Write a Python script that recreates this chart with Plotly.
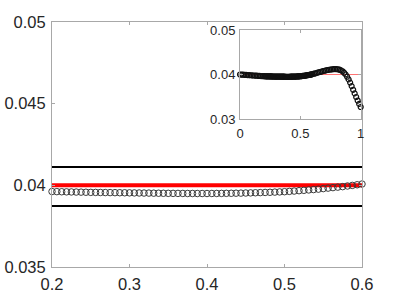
import plotly.graph_objects as go

# ---- data ----
x_vals = [
    0.0, 0.0125, 0.025, 0.0375, 0.05, 0.0625, 0.075, 0.0875, 0.1, 0.1125, 0.125, 0.1375,
    0.15, 0.1625, 0.175, 0.1875,
    0.2, 0.20625, 0.2125, 0.21875, 0.225, 0.23125, 0.2375, 0.24375,
    0.25, 0.25625, 0.2625, 0.26875, 0.275, 0.28125, 0.2875, 0.29375,
    0.3, 0.30625, 0.3125, 0.31875, 0.325, 0.33125, 0.3375, 0.34375,
    0.35, 0.35625, 0.3625, 0.36875, 0.375, 0.38125, 0.3875, 0.39375,
    0.4, 0.40625, 0.4125, 0.41875, 0.425, 0.43125, 0.4375, 0.44375,
    0.45, 0.45625, 0.4625, 0.46875, 0.475, 0.48125, 0.4875, 0.49375,
    0.5, 0.50625, 0.5125, 0.51875, 0.525, 0.53125, 0.5375, 0.54375,
    0.55, 0.55625, 0.5625, 0.56875, 0.575, 0.58125, 0.5875, 0.59375,
    0.6,
    0.6125, 0.625, 0.6375, 0.65, 0.6625, 0.675, 0.6875, 0.7, 0.7125, 0.725, 0.7375,
    0.75, 0.7625, 0.775, 0.7875, 0.8, 0.8125, 0.825, 0.8375, 0.85, 0.8625, 0.875,
    0.8875, 0.9, 0.9125, 0.925, 0.9375, 0.95, 0.9625, 0.975, 0.9875, 1.0,
]
y_vals = [
    0.04000, 0.03998, 0.03996, 0.03993, 0.03991, 0.03988, 0.03985, 0.03983, 0.03980,
    0.03978, 0.03975, 0.03973, 0.03970, 0.03968, 0.03966, 0.03964,
    0.039620, 0.039614, 0.039607, 0.039601, 0.039595, 0.039589, 0.039583, 0.039577,
    0.039570, 0.039566, 0.039562, 0.039558, 0.039555, 0.039551, 0.039547, 0.039544,
    0.039540, 0.039536, 0.039532, 0.039528, 0.039525, 0.039521, 0.039517, 0.039514,
    0.039510, 0.039508, 0.039506, 0.039504, 0.039502, 0.039501, 0.039500, 0.039500,
    0.039500, 0.039501, 0.039503, 0.039506, 0.039510, 0.039514, 0.039519, 0.039524,
    0.039530, 0.039538, 0.039546, 0.039555, 0.039565, 0.039575, 0.039586, 0.039597,
    0.039610, 0.039630, 0.039650, 0.039672, 0.039695, 0.039718, 0.039741, 0.039765,
    0.039800, 0.039830, 0.039860, 0.039890, 0.039920, 0.039960, 0.039995, 0.040035,
    0.040080,
    0.04018, 0.04027, 0.04037, 0.04047, 0.04057, 0.04067, 0.04076, 0.04085, 0.04093,
    0.04101, 0.04107, 0.04113, 0.04117, 0.04120, 0.04121, 0.04120, 0.04116, 0.04108,
    0.04094, 0.04072, 0.04041, 0.04002, 0.03951, 0.03890, 0.03818, 0.03740, 0.03657,
    0.03575, 0.03495, 0.03415, 0.03340, 0.03270,
]
ref_level = 0.04
band_upper = 0.04113
band_lower = 0.03873

main_x_range = [0.2, 0.6]
main_y_range = [0.035, 0.05]
main_x_ticks = [0.2, 0.3, 0.4, 0.5, 0.6]
main_x_labels = ["0.2", "0.3", "0.4", "0.5", "0.6"]
main_y_ticks = [0.035, 0.04, 0.045, 0.05]
main_y_labels = ["0.035", "0.04", "0.045", "0.05"]

inset_x_range = [0, 1]
inset_y_range = [0.03, 0.05]
inset_x_ticks = [0, 0.5, 1]
inset_x_labels = ["0", "0.5", "1"]
inset_y_ticks = [0.03, 0.04, 0.05]
inset_y_labels = ["0.03", "0.04", "0.05"]

# ---- figure ----
axis_color = "#a8a8a8"
text_color = "#262626"
font_family = "Liberation Sans, Arial, sans-serif"

main_pts = [(x, y) for x, y in zip(x_vals, y_vals)
            if main_x_range[0] - 1e-9 <= x <= main_x_range[1] + 1e-9]

fig = go.Figure()
fig.add_trace(go.Scatter(x=main_x_range, y=[band_upper, band_upper], mode="lines",
                         line=dict(color="black", width=2), hoverinfo="skip"))
fig.add_trace(go.Scatter(x=main_x_range, y=[band_lower, band_lower], mode="lines",
                         line=dict(color="black", width=2), hoverinfo="skip"))
fig.add_trace(go.Scatter(x=main_x_range, y=[ref_level, ref_level], mode="lines",
                         line=dict(color="red", width=4), hoverinfo="skip"))
fig.add_trace(go.Scatter(x=[p[0] for p in main_pts], y=[p[1] for p in main_pts],
                         mode="markers", cliponaxis=False,
                         marker=dict(symbol="circle-open", size=6.5,
                                     color="#3a3a3a", line=dict(width=1, color="#3a3a3a"))))

fig.add_trace(go.Scatter(x=inset_x_range, y=[ref_level, ref_level], mode="lines",
                         xaxis="x2", yaxis="y2",
                         line=dict(color="rgba(255,0,0,0.55)", width=1), hoverinfo="skip"))
fig.add_trace(go.Scatter(x=x_vals, y=y_vals, mode="markers", xaxis="x2", yaxis="y2",
                         cliponaxis=False,
                         marker=dict(symbol="circle-open", size=5,
                                     color="#111111", line=dict(width=1.2, color="#111111"))))

common = dict(showline=True, linecolor=axis_color, linewidth=1, mirror="ticks",
              ticks="inside", ticklen=3, tickcolor=axis_color, tickwidth=1,
              showgrid=False, zeroline=False, automargin=False)

fig.update_layout(
    width=400, height=300, autosize=False,
    margin=dict(l=52, r=38, t=22, b=33),
    paper_bgcolor="white", plot_bgcolor="white",
    showlegend=False,
    font=dict(family=font_family, color=text_color),
    xaxis=dict(range=main_x_range, tickvals=main_x_ticks, ticktext=main_x_labels,
               tickfont=dict(size=16.5), domain=[0, 1], ticklabelstandoff=2, **common),
    yaxis=dict(range=main_y_range, tickvals=main_y_ticks, ticktext=main_y_labels,
               tickfont=dict(size=16.5), domain=[0, 1], ticklabelstandoff=2, **common),
    xaxis2=dict(range=inset_x_range, tickvals=inset_x_ticks, ticktext=inset_x_labels,
                tickfont=dict(size=13), domain=[0.6065, 0.9958], anchor="y2",
                ticklabelstandoff=2, **common),
    yaxis2=dict(range=inset_y_range, tickvals=inset_y_ticks, ticktext=inset_y_labels,
                tickfont=dict(size=13), domain=[0.604, 0.9673], anchor="x2",
                ticklabelstandoff=1, **common),
)

# remove the page's default 8px body margin so the 400x300 figure fills the window
fig.write_html("out.html", config={"displayModeBar": False},
               post_script="document.body.style.margin='0';document.body.style.overflow='hidden';")
